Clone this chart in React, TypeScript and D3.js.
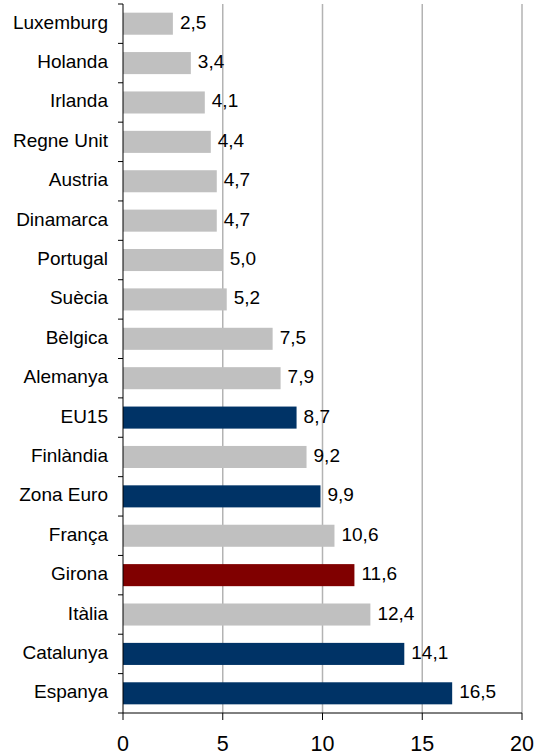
import React from "react";
import * as d3 from "d3";

const categories = ["Luxemburg","Holanda","Irlanda","Regne Unit","Austria","Dinamarca","Portugal","Suècia","Bèlgica","Alemanya","EU15","Finlàndia","Zona Euro","França","Girona","Itàlia","Catalunya","Espanya"];
const values = [2.5,3.4,4.1,4.4,4.7,4.7,5.0,5.2,7.5,7.9,8.7,9.2,9.9,10.6,11.6,12.4,14.1,16.5];
const groups = ["other","other","other","other","other","other","other","other","other","other","agg","other","agg","other","girona","other","agg","agg"];
const xTicks = [0,5,10,15,20];

const colorMap: Record<string,string> = { other: "#c0c0c0", agg: "#003366", girona: "#800000" };

export default function App() {
  const W = 544, H = 755;
  const left = 123, right = 522, top = 4, bottom = 713;
  const x = d3.scaleLinear().domain([0, 20]).range([left, right]);
  const y = d3.scaleBand<string>().domain(categories).range([top, bottom]).paddingInner(0.44).paddingOuter(0.22);
  const bandAll = (bottom - top) / categories.length;
  const font = "'Liberation Sans', Arial, sans-serif";
  return (
    <svg width={W} height={H} style={{ position: "absolute", left: 0, top: 0 }} fontFamily={font}>
      <rect width={W} height={H} fill="#fff" />
      {xTicks.filter(t => t > 0).map(t => (
        <line key={"g"+t} x1={x(t)} x2={x(t)} y1={top} y2={bottom} stroke="#b3b3b3" strokeWidth={1.5} />
      ))}
      {categories.map((c, i) => (
        <rect key={c} x={x(0)} y={y(c)!} width={x(values[i]) - x(0)} height={y.bandwidth()} fill={colorMap[groups[i]]} />
      ))}
      {categories.map((c, i) => (
        <text key={"v"+c} x={x(values[i]) + 7} y={y(c)! + y.bandwidth() / 2} fontSize={19} dominantBaseline="middle" fill="#000">
          {d3.format(".1f")(values[i]).replace(".", ",")}
        </text>
      ))}
      {categories.map((c) => (
        <text key={"l"+c} x={108} y={y(c)! + y.bandwidth() / 2} fontSize={19} textAnchor="end" dominantBaseline="middle" fill="#000">
          {c}
        </text>
      ))}
      <line x1={left} x2={left} y1={top} y2={bottom} stroke="#000" strokeWidth={1} />
      {d3.range(categories.length + 1).map(i => (
        <line key={"yt"+i} x1={left - 5} x2={left} y1={top + i * bandAll} y2={top + i * bandAll} stroke="#000" strokeWidth={1} />
      ))}
      <line x1={left} x2={right} y1={bottom} y2={bottom} stroke="#000" strokeWidth={1} />
      {xTicks.map(t => (
        <g key={"xt"+t}>
          <line x1={x(t)} x2={x(t)} y1={bottom} y2={bottom + 7} stroke="#000" strokeWidth={1} />
          <text x={x(t)} y={751} fontSize={21.5} textAnchor="middle" fill="#000">{t}</text>
        </g>
      ))}
    </svg>
  );
}
